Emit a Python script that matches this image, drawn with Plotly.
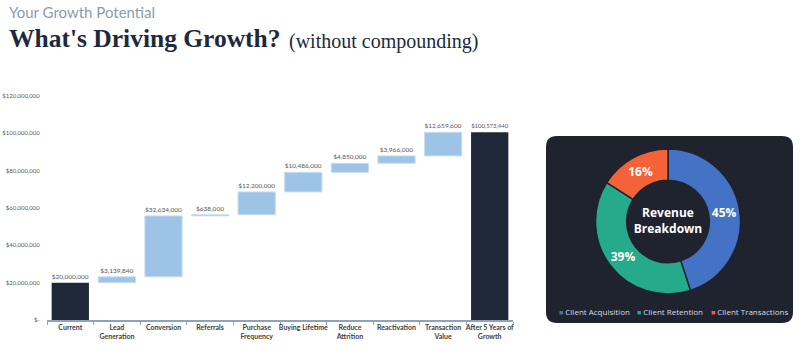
import plotly.graph_objects as go

# ---------------- data ----------------
categories = ["Current", "Lead<br>Generation", "Conversion", "Referrals", "Purchase<br>Frequency",
              "Buying Lifetime", "Reduce<br>Attrition", "Reactivation", "Transaction<br>Value",
              "After 5 Years of<br>Growth"]
measures = ["absolute"] + ["relative"] * 8 + ["total"]
values = [20000000, 3139840, 32634000, 638000, 12200000, 10486000, 4850000, 3966000, 12659600, 100573440]

ytick_vals = [0, 20000000, 40000000, 60000000, 80000000, 100000000, 120000000]
ytick_text = ["$-", "$20,000,000", "$40,000,000", "$60,000,000", "$80,000,000", "$100,000,000", "$120,000,000"]

pie_labels = ["Client Acquisition", "Client Retention", "Client Transactions"]
pie_values = [45, 39, 16]
pie_colors = ["#4472C4", "#26AA8C", "#F4623A"]

# ---------------- geometry helpers ----------------
W, H = 800, 351
L, R, T, B = 47, 10, 96, 31
pw, ph = W - L - R, H - T - B


def px_x(x):
    return (x - L) / pw


def px_y(y):
    return (H - B - y) / ph


bar_texts = ["${:,.0f}".format(v) for v in values]

fig = go.Figure()

fig.add_trace(go.Waterfall(
    x=categories,
    y=values,
    measure=measures,
    text=bar_texts,
    textposition="outside",
    textfont=dict(family="Lato", size=6.5, color="#595959"),
    increasing=dict(marker=dict(color="#9DC3E6", line=dict(color="#C9DEF1", width=1))),
    totals=dict(marker=dict(color="#1F2838", line=dict(color="#1F2838", width=0))),
    connector=dict(visible=False),
    cliponaxis=False,
    showlegend=False,
    hoverinfo="skip",
    xaxis="x", yaxis="y",
))

fig.add_trace(go.Pie(
    labels=pie_labels,
    values=pie_values,
    marker=dict(colors=pie_colors, line=dict(color="#1F232E", width=1.5)),
    hole=0.57,
    sort=False,
    direction="clockwise",
    rotation=0,
    textinfo="percent",
    texttemplate="%{percent:.0%}",
    textposition="inside",
    insidetextorientation="horizontal",
    textfont=dict(family="Open Sans", size=12, color="white", weight="bold"),
    title=dict(text="<b>Revenue<br>Breakdown</b>", position="middle center",
               font=dict(family="Open Sans", size=12, color="white")),
    domain=dict(x=[px_x(595), px_x(741)], y=[px_y(294), px_y(149)]),
    showlegend=False,
    hoverinfo="skip",
))

# rounded dark panel
x0, x1 = px_x(546), px_x(793)
yt, yb = px_y(136), px_y(323)
rx, ry = 11 / pw, 11 / ph
path = (f"M {x0+rx},{yb} L {x1-rx},{yb} Q {x1},{yb} {x1},{yb+ry} "
        f"L {x1},{yt-ry} Q {x1},{yt} {x1-rx},{yt} L {x0+rx},{yt} "
        f"Q {x0},{yt} {x0},{yt-ry} L {x0},{yb+ry} Q {x0},{yb} {x0+rx},{yb} Z")

annotations = [
    dict(text="Your Growth Potential", x=px_x(7), y=px_y(12), xref="paper", yref="paper",
         xanchor="left", yanchor="middle", showarrow=False,
         font=dict(family="Lato", size=15, color="#8D9AAC")),
    dict(text="<b>What's Driving Growth?</b>", x=px_x(7), y=px_y(39), xref="paper", yref="paper",
         xanchor="left", yanchor="middle", showarrow=False,
         font=dict(family="Liberation Serif", size=25.5, color="#1C2A3D")),
    dict(text="(without compounding)", x=px_x(287), y=px_y(41), xref="paper", yref="paper",
         xanchor="left", yanchor="middle", showarrow=False,
         font=dict(family="Liberation Serif", size=20, color="#1C2A3D")),
]

legend_x = [557, 635, 709]
for lab, col, lx in zip(pie_labels, pie_colors, legend_x):
    annotations.append(dict(
        text=f"<span style='color:{col};font-size:7px'>■</span> {lab}",
        x=px_x(lx), y=px_y(311), xref="paper", yref="paper",
        xanchor="left", yanchor="middle", showarrow=False,
        font=dict(family="Open Sans", size=8, color="#DADDE3")))

fig.update_layout(
    width=W, height=H,
    margin=dict(l=L, r=R, t=T, b=B),
    paper_bgcolor="white", plot_bgcolor="white",
    bargap=0.08,
    shapes=[dict(type="path", path=path, xref="paper", yref="paper",
                 fillcolor="#1F232E", line=dict(width=0), layer="below")],
    annotations=annotations,
    xaxis=dict(domain=[0, px_x(513)], showline=True, linecolor="#8EA2BD", linewidth=1.5,
               ticks="outside", tickson="boundaries", ticklen=3, tickcolor="#8EA2BD",
               tickfont=dict(family="Lato", size=7, color="#404040", weight="bold"),
               showgrid=False, zeroline=False, tickangle=0, automargin=False),
    yaxis=dict(range=[0, 120000000], tickvals=ytick_vals, ticktext=ytick_text,
               showgrid=False, zeroline=False, showline=False, automargin=False,
               ticks="outside", ticklen=5, tickcolor="rgba(0,0,0,0)",
               tickfont=dict(family="Lato", size=6, color="#595959")),
)

fig.write_html("out.html")
